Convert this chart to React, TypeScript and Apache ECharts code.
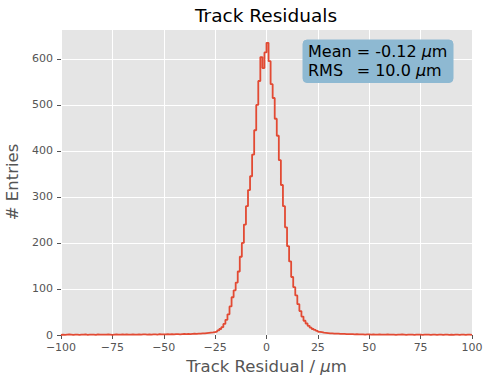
import React, { useEffect, useRef } from "react";
import * as echarts from "echarts";

// Histogram: 1 µm bins from -100 to 100 (left edges)
const binStart = -100;
const binWidth = 1;
const counts: number[] = [
  // -100 .. -91
  1, 0.5, 1, 1.5, 1, 0.5, 1, 1, 0.5, 1,
  // -90 .. -81
  1, 1.5, 0.5, 1, 1, 1, 0.5, 1.5, 1, 1,
  // -80 .. -71
  1, 1, 1.5, 1, 0.5, 1, 1.5, 1, 1, 1.5,
  // -70 .. -61
  1, 1.5, 1, 1, 1.5, 1, 1, 1.5, 1, 1.5,
  // -60 .. -51
  1.5, 1, 1.5, 1, 1.5, 1.5, 1, 2, 1.5, 1.5,
  // -50 .. -41
  1.5, 2, 1.5, 2, 1.5, 2, 2, 1.5, 2, 2.5,
  // -40 .. -31
  2, 2.5, 2, 2.5, 3, 2.5, 3, 3, 3.5, 3.5,
  // -30 .. -21
  4, 4.5, 5, 5.5, 6.5, 7.5, 10, 13, 17, 24,
  // -20 .. -11
  33, 45, 62, 82, 97, 114, 138, 170, 200, 240,
  // -10 .. -1
  280, 315, 345, 392, 445, 500, 552, 604, 580, 614,
  // 0 .. 9
  635, 595, 545, 515, 470, 433, 380, 326, 280, 234,
  // 10 .. 19
  193, 160, 126, 104, 86, 67, 52, 40, 31, 25,
  // 20 .. 29
  20, 16, 13, 11, 9, 7, 6, 5, 4.5, 4,
  // 30 .. 39
  3.5, 3.5, 3, 3, 3, 2.5, 2.5, 2.5, 2, 2,
  // 40 .. 49
  2, 2, 1.5, 2, 1.5, 1.5, 1.5, 1, 1.5, 1.5,
  // 50 .. 59
  1, 1.5, 1, 1, 1.5, 1, 1, 1, 1.5, 1,
  // 60 .. 69
  1, 1, 0.5, 1, 1, 1.5, 1, 0.5, 1, 1,
  // 70 .. 79
  1, 0.5, 1, 1, 1, 0.5, 1, 1, 1, 0.5,
  // 80 .. 89
  1, 1, 0.5, 1, 1, 0.5, 1, 1, 0.5, 1,
  // 90 .. 99
  0.5, 1, 1, 0.5, 1, 1, 0.5, 1, 1, 0.5,
];

const xTicks = { min: -100, max: 100, interval: 25 };
const yTicks = { min: 0, max: 665, interval: 100 };
const statsLine1 = "Mean = -0.12 {i|μ}m";
const statsLabel2 = "RMS";
const statsValue2 = "= 10.0 {i|μ}m";

const FONT = "DejaVu Sans";

export default function App() {
  const ref = useRef<HTMLDivElement>(null);

  useEffect(() => {
    document.body.style.margin = "0";
    if (!ref.current) return;
    const chart = echarts.init(ref.current, undefined, { renderer: "svg" });

    const data: [number, number][] = [[binStart, 0]];
    counts.forEach((c, i) => data.push([binStart + i * binWidth, c]));
    data.push([binStart + counts.length * binWidth, counts[counts.length - 1]]);
    data.push([binStart + counts.length * binWidth, 0]);

    const minus = (v: number) => String(v).replace("-", "\u2212");

    const boxText = (text: string, x: number, y: number) => ({
      type: "text",
      x,
      y,
      z: 11,
      style: {
        text,
        fontFamily: FONT,
        fontSize: 16,
        fill: "#000000",
        textVerticalAlign: "middle",
        rich: { i: { fontStyle: "italic", fontFamily: FONT, fontSize: 16, fill: "#000000" } },
      },
    });

    const lineY = [51.5, 70.2];

    const option: any = {
      animation: false,
      backgroundColor: "#FFFFFF",
      grid: {
        left: 61,
        right: 12,
        top: 29,
        bottom: 41,
        show: true,
        backgroundColor: "#E5E5E5",
        borderWidth: 0,
        outerBoundsMode: "none",
        containLabel: false,
      },
      xAxis: {
        type: "value",
        min: xTicks.min,
        max: xTicks.max,
        interval: xTicks.interval,
        axisLine: { show: false, onZero: false },
        axisTick: { show: true, length: 4, lineStyle: { color: "#555555" } },
        axisLabel: {
          color: "#555555",
          fontFamily: FONT,
          fontSize: 11,
          margin: 7,
          formatter: (v: number) => minus(v),
        },
        splitLine: { show: true, lineStyle: { color: "#FFFFFF", width: 1 } },
        name: "Track Residual / {i|μ}m",
        nameLocation: "middle",
        nameGap: 22,
        nameTextStyle: {
          color: "#555555",
          fontFamily: FONT,
          fontSize: 16.5,
          rich: { i: { fontStyle: "italic", fontFamily: FONT, fontSize: 16.5, color: "#555555" } },
        },
      },
      yAxis: {
        type: "value",
        min: yTicks.min,
        max: yTicks.max,
        interval: yTicks.interval,
        axisLine: { show: false, onZero: false },
        axisTick: { show: true, length: 4, lineStyle: { color: "#555555" } },
        axisLabel: {
          color: "#555555",
          fontFamily: FONT,
          fontSize: 11,
          margin: 8,
          showMaxLabel: false,
          formatter: (v: number) => (v % 100 === 0 ? String(v) : ""),
        },
        splitLine: { show: true, lineStyle: { color: "#FFFFFF", width: 1 } },
        name: "# Entries",
        nameLocation: "middle",
        nameGap: 37,
        nameTextStyle: { color: "#555555", fontFamily: FONT, fontSize: 16.5 },
      },
      series: [
        {
          type: "line",
          step: "end",
          data,
          showSymbol: false,
          symbol: "none",
          lineStyle: { color: "#E24A33", width: 1.8 },
          itemStyle: { color: "#E24A33" },
        },
      ],
      graphic: [
        {
          type: "text",
          x: 266,
          y: 15,
          style: {
            text: "Track Residuals",
            fontFamily: FONT,
            fontSize: 18.5,
            fill: "#000000",
            textAlign: "center",
            textVerticalAlign: "middle",
          },
        },
        {
          type: "rect",
          shape: { x: 303, y: 40, width: 150, height: 42.5, r: 4 },
          style: { fill: "#8EB9D2", stroke: "#8EB9D2" },
          z: 10,
        },
        boxText(statsLine1, 308, lineY[0]),
        boxText(statsLabel2, 308, lineY[1]),
        boxText(statsValue2, 356.7, lineY[1]),
      ],
    };

    chart.setOption(option);
    return () => chart.dispose();
  }, []);

  return <div ref={ref} style={{ width: 484, height: 376 }} />;
}
